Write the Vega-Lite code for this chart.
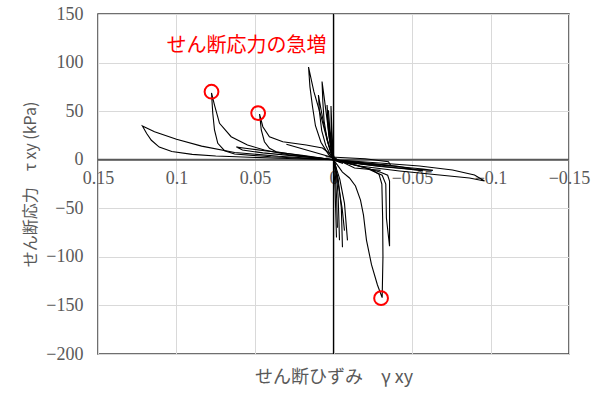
{
  "$schema": "https://vega.github.io/schema/vega-lite/v6.json",
  "width": 471,
  "height": 340,
  "autosize": {"type": "none"},
  "padding": {"left": 98, "top": 14, "right": 40, "bottom": 40},
  "background": "white",
  "config": {"view": {"stroke": "#404040", "strokeWidth": 1.5}},
  "datasets": {
    "curves": [
      {"s":"A","i":0,"x":-0.006,"y":-4},{"s":"A","i":1,"x":0,"y":0},{"s":"A","i":2,"x":0.035,"y":3.5},{"s":"A","i":3,"x":0.063,"y":7.5},{"s":"A","i":4,"x":0.084,"y":14},{"s":"A","i":5,"x":0.1,"y":21},{"s":"A","i":6,"x":0.114,"y":28.8},{"s":"A","i":7,"x":0.1217,"y":34.7},{"s":"A","i":8,"x":0.119,"y":27},{"s":"A","i":9,"x":0.116,"y":20},{"s":"A","i":10,"x":0.111,"y":13},{"s":"A","i":11,"x":0.103,"y":8.5},{"s":"A","i":12,"x":0.09,"y":5.5},{"s":"A","i":13,"x":0.075,"y":3.8},{"s":"A","i":14,"x":0.062,"y":3.0},{"s":"A","i":15,"x":0.035,"y":1.5},{"s":"A","i":16,"x":0,"y":0},{"s":"A","i":17,"x":-0.012,"y":-3},
      {"s":"B","i":0,"x":-0.005,"y":-3},{"s":"B","i":1,"x":0,"y":0},{"s":"B","i":2,"x":0.028,"y":4.8},{"s":"B","i":3,"x":0.044,"y":10},{"s":"B","i":4,"x":0.0548,"y":15.1},{"s":"B","i":5,"x":0.0652,"y":23.7},{"s":"B","i":6,"x":0.0726,"y":37.5},{"s":"B","i":7,"x":0.0758,"y":56.3},{"s":"B","i":8,"x":0.0777,"y":68.7},{"s":"B","i":9,"x":0.0769,"y":47.8},{"s":"B","i":10,"x":0.0758,"y":30.6},{"s":"B","i":11,"x":0.0737,"y":16.9},{"s":"B","i":12,"x":0.0694,"y":9.3},{"s":"B","i":13,"x":0.063,"y":5.9},{"s":"B","i":14,"x":0.04,"y":3},{"s":"B","i":15,"x":0,"y":0},{"s":"B","i":16,"x":-0.015,"y":-4},
      {"s":"C","i":0,"x":-0.004,"y":-2},{"s":"C","i":1,"x":0,"y":3},{"s":"C","i":2,"x":0.007,"y":12},{"s":"C","i":3,"x":0.0174,"y":15.1},{"s":"C","i":4,"x":0.0323,"y":18.5},{"s":"C","i":5,"x":0.0408,"y":23.7},{"s":"C","i":6,"x":0.045,"y":34},{"s":"C","i":7,"x":0.0471,"y":47},{"s":"C","i":8,"x":0.046,"y":30.6},{"s":"C","i":9,"x":0.044,"y":18.5},{"s":"C","i":10,"x":0.0408,"y":11.7},{"s":"C","i":11,"x":0.0365,"y":8.2},{"s":"C","i":12,"x":0.02,"y":4},{"s":"C","i":13,"x":0,"y":0},{"s":"C","i":14,"x":-0.02,"y":-5},
      {"s":"I","i":0,"x":0,"y":0},{"s":"I","i":1,"x":0.02,"y":4.5},{"s":"I","i":2,"x":0.04,"y":8.5},{"s":"I","i":3,"x":0.055,"y":11.5},{"s":"I","i":4,"x":0.0618,"y":13},{"s":"I","i":5,"x":0.058,"y":10},{"s":"I","i":6,"x":0.045,"y":7},{"s":"I","i":7,"x":0.025,"y":4},{"s":"I","i":8,"x":0,"y":0},{"s":"I","i":9,"x":-0.03,"y":-6},
      {"s":"J","i":0,"x":0.03,"y":16},{"s":"J","i":1,"x":0.015,"y":9},{"s":"J","i":2,"x":0,"y":2},{"s":"J","i":3,"x":-0.0134,"y":-8.5},{"s":"J","i":4,"x":-0.03,"y":-11},
      {"s":"D1","i":0,"x":-0.002,"y":-10},{"s":"D1","i":1,"x":0.001,"y":5},{"s":"D1","i":2,"x":0.004,"y":20},{"s":"D1","i":3,"x":0.008,"y":45},{"s":"D1","i":4,"x":0.0125,"y":70},{"s":"D1","i":5,"x":0.0159,"y":95.4},{"s":"D1","i":6,"x":0.015,"y":75},{"s":"D1","i":7,"x":0.0134,"y":55},{"s":"D1","i":8,"x":0.0115,"y":35},{"s":"D1","i":9,"x":0.008,"y":18},{"s":"D1","i":10,"x":0.003,"y":5},{"s":"D1","i":11,"x":0,"y":0},{"s":"D1","i":12,"x":-0.002,"y":-15},{"s":"D1","i":13,"x":-0.003,"y":-40},{"s":"D1","i":14,"x":-0.0035,"y":-65},{"s":"D1","i":15,"x":-0.0038,"y":-83},
      {"s":"D2","i":0,"x":-0.001,"y":-5},{"s":"D2","i":1,"x":0.002,"y":15},{"s":"D2","i":2,"x":0.004,"y":40},{"s":"D2","i":3,"x":0.006,"y":65},{"s":"D2","i":4,"x":0.0073,"y":80.5},{"s":"D2","i":5,"x":0.0068,"y":60},{"s":"D2","i":6,"x":0.006,"y":40},{"s":"D2","i":7,"x":0.004,"y":20},{"s":"D2","i":8,"x":0.002,"y":8},{"s":"D2","i":9,"x":0,"y":0},{"s":"D2","i":10,"x":-0.003,"y":-20},{"s":"D2","i":11,"x":-0.005,"y":-50},{"s":"D2","i":12,"x":-0.0057,"y":-90},
      {"s":"D3","i":0,"x":-0.001,"y":-3},{"s":"D3","i":1,"x":0.003,"y":15},{"s":"D3","i":2,"x":0.006,"y":35},{"s":"D3","i":3,"x":0.008,"y":52},{"s":"D3","i":4,"x":0.0096,"y":66.6},{"s":"D3","i":5,"x":0.009,"y":50},{"s":"D3","i":6,"x":0.0075,"y":30},{"s":"D3","i":7,"x":0.005,"y":15},{"s":"D3","i":8,"x":0.002,"y":5},{"s":"D3","i":9,"x":0,"y":0},{"s":"D3","i":10,"x":-0.004,"y":-20},{"s":"D3","i":11,"x":-0.007,"y":-45},{"s":"D3","i":12,"x":-0.0089,"y":-83},
      {"s":"D4","i":0,"x":0,"y":0},{"s":"D4","i":1,"x":0.002,"y":20},{"s":"D4","i":2,"x":0.0035,"y":42},{"s":"D4","i":3,"x":0.0041,"y":56.3},{"s":"D4","i":4,"x":0.0038,"y":40},{"s":"D4","i":5,"x":0.003,"y":25},{"s":"D4","i":6,"x":0.0015,"y":10},{"s":"D4","i":7,"x":0,"y":0},{"s":"D4","i":8,"x":-0.003,"y":-25},{"s":"D4","i":9,"x":-0.0055,"y":-50},{"s":"D4","i":10,"x":-0.007,"y":-73},
      {"s":"D5","i":0,"x":0,"y":0},{"s":"D5","i":1,"x":0.001,"y":30},{"s":"D5","i":2,"x":0.0016,"y":55.3},{"s":"D5","i":3,"x":0.0015,"y":35},{"s":"D5","i":4,"x":0.001,"y":15},{"s":"D5","i":5,"x":0,"y":0},{"s":"D5","i":6,"x":-0.001,"y":-30},{"s":"D5","i":7,"x":-0.0019,"y":-80},
      {"s":"D6","i":0,"x":-0.001,"y":-5},{"s":"D6","i":1,"x":0.001,"y":15},{"s":"D6","i":2,"x":0.0025,"y":35},{"s":"D6","i":3,"x":0.0032,"y":51},{"s":"D6","i":4,"x":0.0028,"y":35},{"s":"D6","i":5,"x":0.002,"y":20},{"s":"D6","i":6,"x":0.001,"y":8},{"s":"D6","i":7,"x":-0.001,"y":-10},{"s":"D6","i":8,"x":-0.002,"y":-40},{"s":"D6","i":9,"x":-0.0025,"y":-70},
      {"s":"G","i":0,"x":0,"y":0},{"s":"G","i":1,"x":-0.0025,"y":-5.5},{"s":"G","i":2,"x":-0.0057,"y":-12.7},{"s":"G","i":3,"x":-0.0102,"y":-18.8},{"s":"G","i":4,"x":-0.014,"y":-27},{"s":"G","i":5,"x":-0.0172,"y":-41.5},{"s":"G","i":6,"x":-0.0191,"y":-57},{"s":"G","i":7,"x":-0.021,"y":-82.7},{"s":"G","i":8,"x":-0.0242,"y":-108},{"s":"G","i":9,"x":-0.028,"y":-129},{"s":"G","i":10,"x":-0.031,"y":-142},{"s":"G","i":11,"x":-0.0315,"y":-100},{"s":"G","i":12,"x":-0.0313,"y":-60},{"s":"G","i":13,"x":-0.0308,"y":-25},{"s":"G","i":14,"x":-0.029,"y":-15},{"s":"G","i":15,"x":-0.024,"y":-10},{"s":"G","i":16,"x":-0.015,"y":-6},{"s":"G","i":17,"x":-0.005,"y":-2},{"s":"G","i":18,"x":0,"y":0},
      {"s":"F","i":0,"x":0,"y":0},{"s":"F","i":1,"x":-0.01,"y":-4},{"s":"F","i":2,"x":-0.022,"y":-9},{"s":"F","i":3,"x":-0.03,"y":-13},{"s":"F","i":4,"x":-0.0345,"y":-16},{"s":"F","i":5,"x":-0.0357,"y":-22},{"s":"F","i":6,"x":-0.0357,"y":-50},{"s":"F","i":7,"x":-0.0357,"y":-89},{"s":"F","i":8,"x":-0.0337,"y":-60},{"s":"F","i":9,"x":-0.0333,"y":-25},{"s":"F","i":10,"x":-0.031,"y":-16},{"s":"F","i":11,"x":-0.02,"y":-8},{"s":"F","i":12,"x":0,"y":0},
      {"s":"H1","i":0,"x":0.01,"y":2},{"s":"H1","i":1,"x":0,"y":0},{"s":"H1","i":2,"x":-0.0293,"y":-3.4},{"s":"H1","i":3,"x":-0.0548,"y":-6.5},{"s":"H1","i":4,"x":-0.0758,"y":-10.6},{"s":"H1","i":5,"x":-0.0898,"y":-15.8},{"s":"H1","i":6,"x":-0.0962,"y":-22},{"s":"H1","i":7,"x":-0.0866,"y":-18.8},{"s":"H1","i":8,"x":-0.0675,"y":-15.8},{"s":"H1","i":9,"x":-0.042,"y":-11.6},{"s":"H1","i":10,"x":-0.0166,"y":-6.5},{"s":"H1","i":11,"x":0,"y":0},
      {"s":"H2","i":0,"x":0.01,"y":1},{"s":"H2","i":1,"x":0,"y":0},{"s":"H2","i":2,"x":-0.02,"y":-4},{"s":"H2","i":3,"x":-0.04,"y":-7},{"s":"H2","i":4,"x":-0.057,"y":-9.5},{"s":"H2","i":5,"x":-0.0633,"y":-11},{"s":"H2","i":6,"x":-0.05,"y":-10},{"s":"H2","i":7,"x":-0.03,"y":-7},{"s":"H2","i":8,"x":-0.01,"y":-3},{"s":"H2","i":9,"x":0,"y":0},
      {"s":"H3","i":0,"x":0,"y":0},{"s":"H3","i":1,"x":-0.02,"y":-3.5},{"s":"H3","i":2,"x":-0.04,"y":-6.5},{"s":"H3","i":3,"x":-0.057,"y":-11.5},{"s":"H3","i":4,"x":-0.045,"y":-9},{"s":"H3","i":5,"x":-0.025,"y":-6},{"s":"H3","i":6,"x":0,"y":0},
      {"s":"K","i":0,"x":0.005,"y":3},{"s":"K","i":1,"x":-0.02,"y":1},{"s":"K","i":2,"x":-0.035,"y":-2},{"s":"K","i":3,"x":-0.0365,"y":-6},{"s":"K","i":4,"x":-0.03,"y":-5},{"s":"K","i":5,"x":0,"y":0}
    ],
    "circles": [
      {"x": 0.0777, "y": 70},
      {"x": 0.048, "y": 48},
      {"x": -0.0303, "y": -142.5}
    ],
    "label": [
      {"x": 0.0554, "y": 117, "t": "せん断応力の急増"}
    ]
  },
  "encoding": {
    "x": {
      "field": "x", "type": "quantitative",
      "scale": {"domain": [-0.15, 0.15], "reverse": true, "nice": false, "zero": false},
      "axis": {
        "title": "せん断ひずみ　γ xy",
        "values": [0.15, 0.1, 0.05, 0, -0.05, -0.1, -0.15],
        "format": ".2~g",
        "offset": -194.3,
        "domain": false, "ticks": false,
        "grid": true, "gridColor": "#d9d9d9", "gridWidth": 1,
        "labelFont": "Liberation Serif", "labelFontSize": 18, "labelColor": "#595959",
        "labelPadding": 10, "labelFlush": false, "labelOverlap": false,
        "titleFont": "Noto Sans CJK JP", "titleFontSize": 18, "titleFontWeight": "normal", "titleColor": "#595959",
        "titleY": 218, "titleBaseline": "middle"
      }
    },
    "y": {
      "field": "y", "type": "quantitative",
      "scale": {"domain": [-200, 150], "nice": false, "zero": false},
      "axis": {
        "title": "せん断応力　τ xy (kPa)",
        "values": [150, 100, 50, 0, -50, -100, -150, -200],
        "domain": false, "ticks": false,
        "grid": true, "gridColor": "#d9d9d9", "gridWidth": 1,
        "labelFont": "Liberation Serif", "labelFontSize": 18, "labelColor": "#595959",
        "labelPadding": 15,
        "titleFont": "Noto Sans CJK JP", "titleFontSize": 16, "titleFontWeight": "normal", "titleColor": "#595959",
        "titleX": -68, "titleBaseline": "middle"
      }
    }
  },
  "layer": [
    {
      "data": {"values": [{"x": 0.15, "x2": -0.15, "y": 0}]},
      "mark": {"type": "rule", "color": "#595959", "strokeWidth": 2},
      "encoding": {"x2": {"field": "x2"}}
    },
    {
      "data": {"values": [{"x": 0, "y": -200, "y2": 150}]},
      "mark": {"type": "rule", "color": "black", "strokeWidth": 1.3},
      "encoding": {"y2": {"field": "y2"}}
    },
    {
      "data": {"name": "curves"},
      "mark": {"type": "line", "color": "black", "strokeWidth": 1.1},
      "encoding": {"detail": {"field": "s"}, "order": {"field": "i", "type": "quantitative"}}
    },
    {
      "data": {"name": "circles"},
      "mark": {"type": "point", "shape": "circle", "filled": false, "size": 190, "color": "#ff0000", "strokeWidth": 2, "opacity": 1}
    },
    {
      "data": {"name": "label"},
      "mark": {"type": "text", "font": "Noto Sans CJK JP", "fontSize": 20, "color": "#ff0000", "align": "center", "baseline": "middle"},
      "encoding": {"text": {"field": "t"}}
    }
  ]
}
